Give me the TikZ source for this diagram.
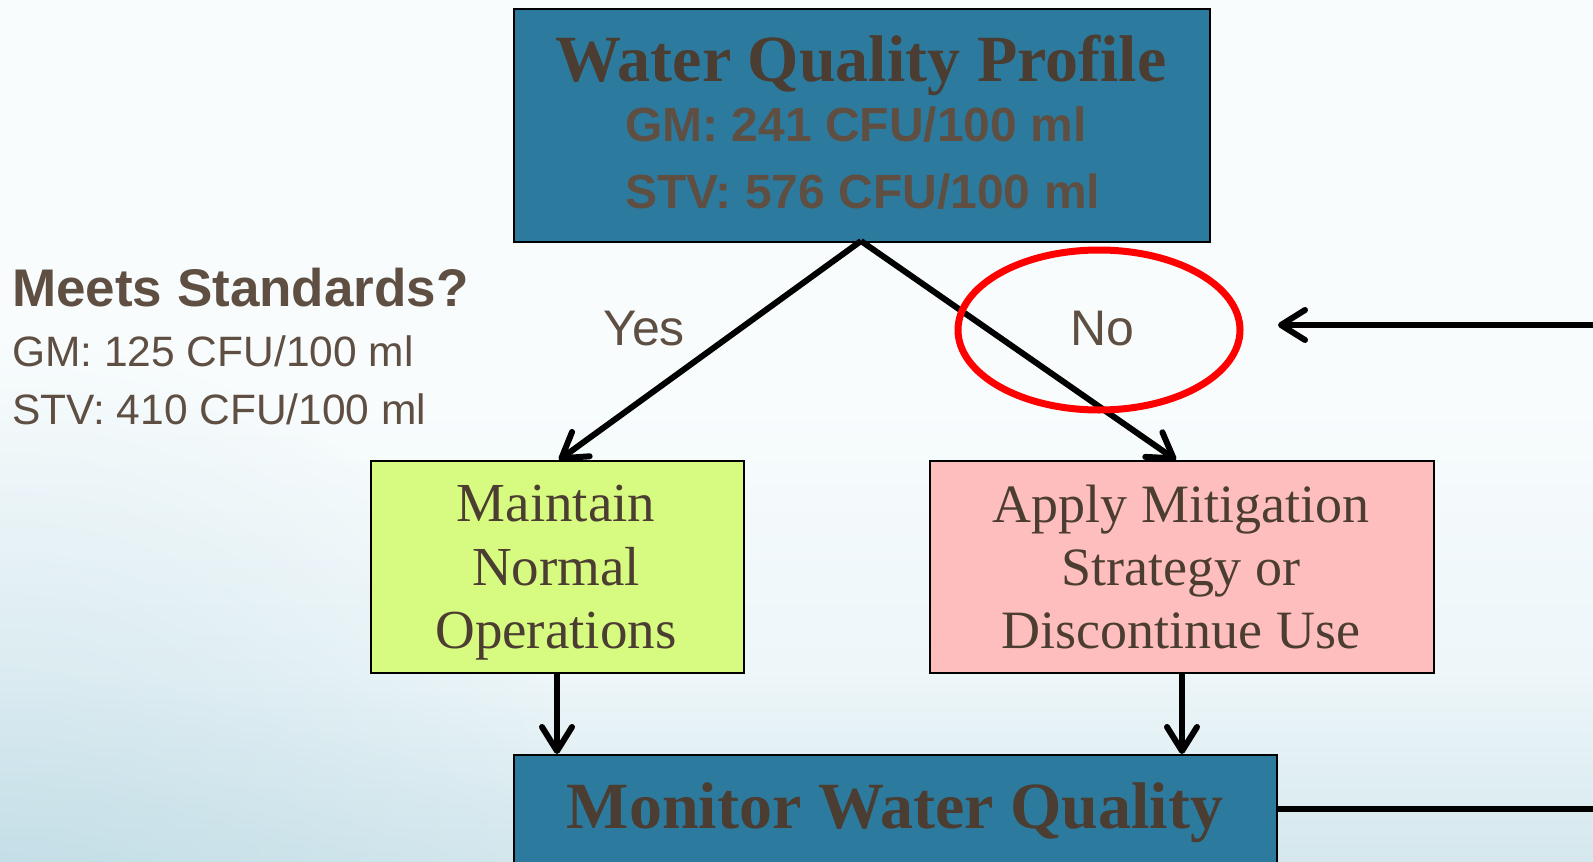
\documentclass[tikz,border=0pt]{standalone}
\usepackage{fontspec}
\setmainfont{Liberation Serif}
\newfontfamily\arialf{Liberation Sans}
\usetikzlibrary{arrows.meta,fadings}
\definecolor{boxblue}{HTML}{2C7B9F}
\definecolor{boxgreen}{HTML}{D7FA80}
\definecolor{boxpink}{HTML}{FFBEBE}
\definecolor{darkbrown}{HTML}{4B3D31}
\definecolor{midbrown}{HTML}{5F4F43}
\definecolor{bgtop}{HTML}{F8FCFD}
\definecolor{bgmid}{HTML}{EDF6F9}
\definecolor{bgbot}{HTML}{D5E8EE}
\definecolor{corner}{HTML}{B4D5E0}
% the path is mapped onto the 25bp--75bp band of the shading
\pgfdeclareverticalshading{wash}{100bp}{color(0bp)=(bgbot); color(25bp)=(bgbot); color(36bp)=(bgmid); color(52bp)=(bgtop); color(100bp)=(bgtop)}
\tikzfading[name=softspot, inner color=transparent!45, outer color=transparent!100]
\tikzset{
  stepbox/.style={draw=black, line width=1.6pt, anchor=north west, inner sep=0pt},
  flow/.style={line width=6pt, -{Straight Barb[length=24pt,width=30pt,line cap=round,line join=round]}},
  serifline/.style={anchor=base, text=darkbrown, inner sep=0pt},
  sansline/.style={anchor=base west, text=midbrown, inner sep=0pt, font=\arialf},
}
\begin{document}
\begin{tikzpicture}[x=1pt,y=-1pt]
\useasboundingbox (0,0) rectangle (1593,862);
% background wash, a little deeper towards the lower left corner
\begin{scope}[y=1pt]
  \shade[shading=wash] (0,0) rectangle (1593,-862);
  \begin{scope}
    \clip (0,0) rectangle (1593,-862);
    \fill[corner, path fading=softspot] (0,-940) circle (600pt);
  \end{scope}
\end{scope}

% boxes
\node[stepbox, fill=boxblue, minimum width=696pt, minimum height=233pt] (profile) at (513,8) {};
\node[stepbox, fill=boxgreen, minimum width=373pt, minimum height=212pt] (maintain) at (370,460) {};
\node[stepbox, fill=boxpink, minimum width=504pt, minimum height=212pt] (mitigate) at (929,460) {};
\node[stepbox, fill=boxblue, minimum width=763pt, minimum height=112pt] (monitor) at (513,754) {};

% box texts
\node[serifline, font=\fontsize{66}{70}\selectfont\bfseries] (ptitle) at (861,81) {Water Quality Profile};
\node[sansline, font=\arialf\bfseries\fontsize{48}{52}\selectfont] (pgm) at (625,141) {GM: 241 CFU/100 ml};
\node[sansline, font=\arialf\bfseries\fontsize{48}{52}\selectfont] (pstv) at (625,208) {STV: 576 CFU/100 ml};

\node[serifline, font=\fontsize{55}{60}\selectfont] (m1) at (556,521) {Maintain};
\node[serifline, font=\fontsize{55}{60}\selectfont] (m2) at (556,585) {Normal};
\node[serifline, font=\fontsize{55}{60}\selectfont] (m3) at (556,648) {Operations};

\node[serifline, font=\fontsize{54}{60}\selectfont] (a1) at (1181,522) {Apply Mitigation};
\node[serifline, font=\fontsize{54}{60}\selectfont] (a2) at (1181,585) {Strategy or};
\node[serifline, font=\fontsize{54}{60}\selectfont] (a3) at (1181,648) {Discontinue Use};

\node[serifline, font=\fontsize{66}{70}\selectfont\bfseries] (mtitle) at (895,828) {Monitor Water Quality};

% standards text
\node[sansline, font=\arialf\bfseries\fontsize{53}{57}\selectfont] (std) at (12,306) {Meets Standards?};
\node[sansline, font=\arialf\fontsize{42.5}{46}\selectfont] (stdgm) at (12,366) {GM: 125 CFU/100 ml};
\node[sansline, font=\arialf\fontsize{42.5}{46}\selectfont] (stdstv) at (12,424) {STV: 410 CFU/100 ml};

% branch labels
\node[sansline, font=\arialf\fontsize{50}{54}\selectfont] (yes) at (603,345) {Yes};
\node[sansline, font=\arialf\fontsize{50}{54}\selectfont] (no) at (1070,345) {No};

% connectors
\coordinate (fork) at (861,241);
\coordinate (maintop) at (559,460);
\coordinate (mitigtop) at (1176,460);
\draw[flow] (fork) -- (maintop);
\draw[flow] (fork) -- (mitigtop);
\draw[flow] (maintain.south -| 557,0) -- (monitor.north -| 557,0);
\draw[flow] (mitigate.south -| 1182,0) -- (monitor.north -| 1182,0);

\coordinate (retA) at (1593,809);
\coordinate (retB) at (1593,325);
\coordinate (retTip) at (1278,325);
\draw[line width=6.5pt] (monitor.east |- retA) -- (retA);
\draw[flow] (retB) -- (retTip);

% highlight ring
\draw[red, line width=7pt] (1099,330) ellipse [x radius=141pt, y radius=80pt];
\end{tikzpicture}
\end{document}
